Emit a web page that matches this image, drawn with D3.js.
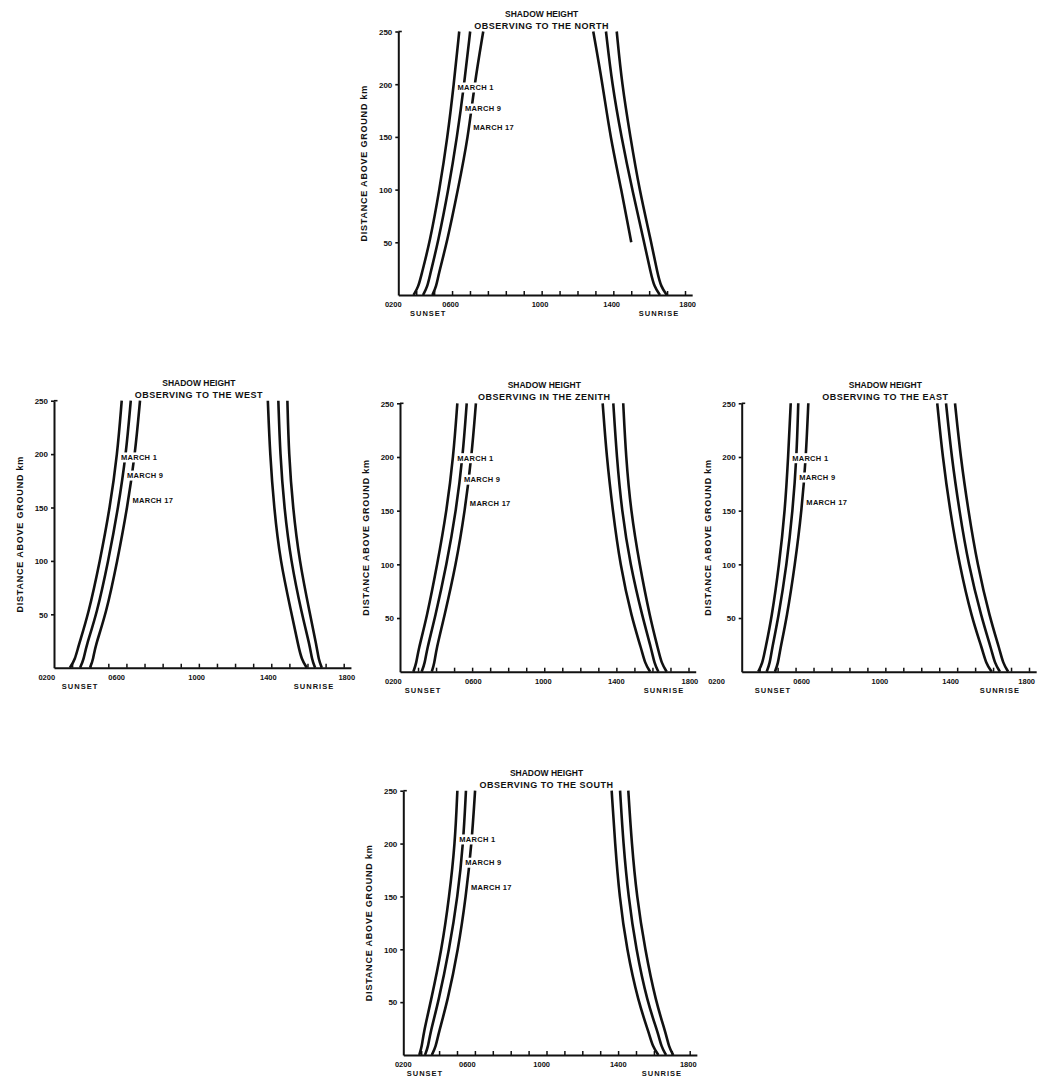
<!DOCTYPE html>
<html>
<head>
<meta charset="utf-8">
<script src="https://cdn.jsdelivr.net/npm/d3@7"></script>
<style>
  html, body { margin: 0; padding: 0; background: #fff; }
  svg { display: block; }
  text { font-family: "Liberation Sans", Arial, Helvetica, sans-serif; font-weight: bold; fill: #111; }
</style>
</head>
<body>
<svg id="chart" width="1040" height="1084"></svg>
<script>
// ---------------- DATA ----------------
const heightsKm = [250, 200, 150, 100, 50, 20, 8, 0];      // km above ground
const dateLabels = ["MARCH 1", "MARCH 9", "MARCH 17"];
const titleLine1 = "SHADOW HEIGHT";
const panelTitles = ["OBSERVING TO THE NORTH", "OBSERVING TO THE WEST", "OBSERVING IN THE ZENITH",
                     "OBSERVING TO THE EAST", "OBSERVING TO THE SOUTH"];
const yAxisTitle = "DISTANCE ABOVE GROUND km";
const xTickHours = [3,4,5,6,7,8,9,10,11,12,13,14,15,16,17,18];
const xTickLabels = ["0200", "0600", "1000", "1400", "1800"];
const yTickValues = [50, 100, 150, 200, 250];

// hour of each curve at heightsKm (evening curves: March 1, 9, 17; then the three morning curves)
const northCurves = [
  [5.40, 5.10, 4.75, 4.30, 3.76, 3.30, 3.13, 2.85],
  [6.01, 5.68, 5.28, 4.80, 4.22, 3.78, 3.63, 3.38],
  [6.74, 6.25, 5.90, 5.33, 4.72, 4.25, 4.12, 3.90],
  [12.88, 13.40, 13.83, 14.45, 15.00, null, null, null],
  [13.59, 13.93, 14.45, 15.05, 15.72, 16.10, 16.28, 16.60],
  [14.19, 14.48, 14.95, 15.45, 16.12, 16.47, 16.66, 16.98]
];
const westCurves = [
  [5.74, 5.50, 5.09, 4.54, 3.90, 3.34, 3.17, 2.88],
  [6.24, 5.98, 5.55, 5.00, 4.36, 3.77, 3.65, 3.44],
  [6.75, 6.48, 6.05, 5.50, 4.87, 4.27, 4.17, 3.99],
  [13.81, 13.93, 14.15, 14.49, 15.13, 15.50, 15.67, 15.96],
  [14.39, 14.49, 14.71, 15.08, 15.69, 16.14, 16.24, 16.42],
  [14.89, 14.97, 15.19, 15.55, 16.14, 16.51, 16.61, 16.79]
];
const zenithCurves = [
  [5.18, 4.96, 4.59, 4.07, 3.48, 3.01, 2.91, 2.74],
  [5.70, 5.48, 5.11, 4.59, 3.94, 3.48, 3.38, 3.20],
  [6.21, 5.97, 5.60, 5.11, 4.44, 4.00, 3.91, 3.76],
  [13.24, 13.46, 13.80, 14.20, 14.85, 15.41, 15.58, 15.87],
  [13.83, 14.02, 14.30, 14.76, 15.46, 15.96, 16.10, 16.33],
  [14.38, 14.53, 14.80, 15.28, 15.87, 16.33, 16.50, 16.79]
];
const eastCurves = [
  [4.73, 4.59, 4.41, 4.09, 3.67, 3.30, 3.16, 2.92],
  [5.15, 5.06, 4.84, 4.51, 4.04, 3.67, 3.57, 3.39],
  [5.71, 5.58, 5.34, 4.97, 4.51, 4.13, 4.03, 3.85],
  [12.89, 13.19, 13.60, 14.12, 14.81, 15.42, 15.60, 15.92],
  [13.38, 13.69, 14.12, 14.62, 15.36, 15.92, 16.09, 16.38],
  [13.88, 14.19, 14.62, 15.12, 15.82, 16.38, 16.55, 16.84]
];
const southCurves = [
  [5.02, 4.89, 4.57, 4.15, 3.53, 3.12, 3.04, 2.89],
  [5.50, 5.35, 5.04, 4.57, 3.96, 3.49, 3.39, 3.21],
  [6.01, 5.82, 5.50, 5.07, 4.46, 3.96, 3.82, 3.59],
  [13.64, 13.83, 14.07, 14.48, 15.13, 15.74, 15.93, 16.25],
  [14.11, 14.29, 14.57, 15.00, 15.63, 16.25, 16.41, 16.68],
  [14.57, 14.76, 15.04, 15.50, 16.11, 16.68, 16.83, 17.08]
];

// where the date labels sit (km) in each panel
const northLabelKm  = [197, 177, 159];
const westLabelKm   = [197, 180, 157];
const zenithLabelKm = [199, 179, 157];
const eastLabelKm   = [199, 181, 158];
const southLabelKm  = [204, 182, 159];

// hour position of the printed x tick labels in each panel
const northXLabelHours  = [1.72, 4.92, 9.91, 13.91, 18.15];
const westXLabelHours   = [1.60, 5.46, 9.88, 13.84, 18.17];
const zenithXLabelHours = [1.63, 6.07, 9.95, 14.00, 18.08];
const eastXLabelHours   = [0.60, 5.34, 9.70, 13.64, 17.87];
const southXLabelHours  = [2.00, 5.58, 9.73, 14.01, 17.92];

// SUNSET / SUNRISE label hours
const northSunHours  = [3.67, 16.55];
const westSunHours   = [3.44, 16.36];
const zenithSunHours = [3.28, 16.64];
const eastSunHours   = [3.74, 16.38];
const southSunHours  = [3.21, 16.45];

// ---------------- LAYOUT ----------------
const layout = [
  { x0: 398.3, bottom: 295.0, w: 286.7, h: 263.5 },
  { x0: 54.0,  bottom: 667.7, w: 289.7, h: 267.0 },
  { x0: 400.0, bottom: 671.7, w: 288.5, h: 268.4 },
  { x0: 741.7, bottom: 671.7, w: 287.3, h: 268.4 },
  { x0: 403.3, bottom: 1055.0, w: 286.4, h: 264.3 }
];
const allCurves = [northCurves, westCurves, zenithCurves, eastCurves, southCurves];
const allLabelKm = [northLabelKm, westLabelKm, zenithLabelKm, eastLabelKm, southLabelKm];
const allXLabelHours = [northXLabelHours, westXLabelHours, zenithXLabelHours, eastXLabelHours, southXLabelHours];
const allSunHours = [northSunHours, westSunHours, zenithSunHours, eastSunHours, southSunHours];

const INK = "#111";
const svg = d3.select("#chart");

function hourAtKm(hours, km) {
  const pts = heightsKm.map((k, i) => [hours[i], k]).filter(p => p[0] != null);
  for (let i = 0; i < pts.length - 1; i++) {
    const a = pts[i], b = pts[i + 1];
    if ((km <= a[1] && km >= b[1])) {
      const t = (km - a[1]) / (b[1] - a[1]);
      return a[0] + t * (b[0] - a[0]);
    }
  }
  return pts[0][0];
}

panelTitles.forEach((title, pi) => {
  const L = layout[pi];
  const x = d3.scaleLinear().domain([2, 18.4]).range([L.x0, L.x0 + L.w * 16.4 / 16]);
  const y = d3.scaleLinear().domain([0, 250]).range([L.bottom, L.bottom - L.h]);
  const g = svg.append("g");

  // axes
  const yAxis = d3.axisLeft(y).tickValues(yTickValues).tickSize(3).tickSizeOuter(0).tickPadding(3)
    .tickFormat(d3.format("d"));
  const ya = g.append("g").attr("transform", `translate(${L.x0},0)`).call(yAxis);
  ya.select(".domain").attr("stroke", INK).attr("stroke-width", 2);
  ya.selectAll(".tick line").attr("stroke", INK).attr("stroke-width", 1.6);
  ya.selectAll(".tick text").attr("font-size", 8).attr("font-family", null).attr("fill", INK).attr("dy", "0.35em");
  g.append("line").attr("x1", L.x0).attr("x2", L.x0 + 3.5).attr("y1", y(250)).attr("y2", y(250))
    .attr("stroke", INK).attr("stroke-width", 1.6);

  const xAxis = d3.axisBottom(x).tickValues(xTickHours).tickSize(-4).tickSizeOuter(0).tickFormat("");
  const xa = g.append("g").attr("transform", `translate(0,${L.bottom})`).call(xAxis);
  xa.select(".domain").attr("stroke", INK).attr("stroke-width", 2);
  xa.selectAll(".tick line").attr("stroke", INK).attr("stroke-width", 1.5);

  g.selectAll(".xl").data(xTickLabels).enter().append("text")
    .attr("x", (d, i) => x(allXLabelHours[pi][i]))
    .attr("y", L.bottom + 12)
    .attr("text-anchor", "middle").attr("font-size", 7.5)
    .text(d => d);

  g.selectAll(".sun").data(["SUNSET", "SUNRISE"]).enter().append("text")
    .attr("x", (d, i) => x(allSunHours[pi][i]))
    .attr("y", L.bottom + 21)
    .attr("text-anchor", "middle").attr("font-size", 7.5).attr("letter-spacing", 1)
    .text(d => d);

  g.append("text")
    .attr("transform", `translate(${L.x0 - 34},${L.bottom - L.h / 2}) rotate(-90)`)
    .attr("text-anchor", "middle").attr("dy", "0.35em")
    .attr("font-size", 9).attr("letter-spacing", 0.8)
    .text(yAxisTitle);

  const cx = L.x0 + L.w / 2;
  g.append("text").attr("x", cx).attr("y", L.bottom - L.h - 15)
    .attr("text-anchor", "middle").attr("font-size", 8.5).text(titleLine1);
  g.append("text").attr("x", cx).attr("y", L.bottom - L.h - 3)
    .attr("text-anchor", "middle").attr("font-size", 9).attr("letter-spacing", 0.5).text(title);

  const line = d3.line().x(d => x(d[0])).y(d => y(d[1])).curve(d3.curveBasis);
  allCurves[pi].forEach(hours => {
    const pts = heightsKm.map((k, i) => [hours[i], k]).filter(p => p[0] != null);
    g.append("path").attr("d", line(pts)).attr("fill", "none")
      .attr("stroke", INK).attr("stroke-width", 2.6).attr("stroke-linecap", "butt");
  });

  dateLabels.forEach((lab, i) => {
    const km = allLabelKm[pi][i];
    const hx = x(hourAtKm(allCurves[pi][i], km)) + 4;
    const t = g.append("text").attr("x", hx).attr("y", y(km)).attr("dy", "0.35em")
      .attr("font-size", 7.5).attr("letter-spacing", 0.3).text(lab);
    const bb = t.node().getBBox();
    g.insert("rect", () => t.node())
      .attr("x", bb.x - 0.5).attr("y", bb.y - 0.5)
      .attr("width", bb.width + 1).attr("height", bb.height + 1)
      .attr("fill", "#fff");
  });
});
</script>
</body>
</html>
